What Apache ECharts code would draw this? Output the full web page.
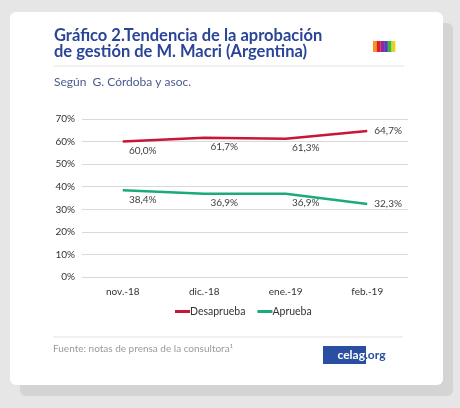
<!DOCTYPE html>
<html><head><meta charset="utf-8">
<script src="https://cdn.jsdelivr.net/npm/echarts@6/dist/echarts.min.js"></script>
<style>html,body{margin:0;padding:0;background:#e6e6e6;}#c{width:460px;height:408px;}</style>
</head><body><div id="c"></div>
<script>
const categories = ['nov.-18', 'dic.-18', 'ene.-19', 'feb.-19'];
const desaprueba = [60.0, 61.7, 61.3, 64.7];
const aprueba = [38.4, 36.9, 36.9, 32.3];
const yTicks = [0, 10, 20, 30, 40, 50, 60, 70];
const seriesNames = ['Desaprueba', 'Aprueba'];

const FONT = 'Lato, "Open Sans", sans-serif';
const chart = echarts.init(document.getElementById('c'), null, {renderer: 'canvas'});
function fmt(v){ return v.toFixed(1).replace('.', ',') + '%'; }
function labelsFor(arr){
  return arr.map((v,i)=>({
    value: v,
    label: i === arr.length-1 ? {show:true, position:'right', offset:[2,0]} : {show:true, position:'bottom', offset:[20,-1]}
  }));
}
const stripes = ['#f7941d','#e31b23','#8e2a9c','#5a3fb0','#3ab54a','#e8d21c'];
const graphics = [
  {type:'rect', shape:{x:20,y:23,width:433,height:373,r:6}, style:{fill:'#d4d4d4'}, z:-10},
  {type:'rect', shape:{x:10,y:12,width:433,height:373,r:6}, style:{fill:'#ffffff'}, z:-9},
  {type:'text', x:54, y:28, style:{text:'Gráfico 2.Tendencia de la aprobación\nde gestión de M. Macri (Argentina)', font:'bold 16.5px '+FONT, fill:'#2a4597', lineHeight:16}},
  {type:'line', shape:{x1:54,y1:66,x2:404,y2:66}, style:{stroke:'#e3e3e3', lineWidth:1}},
  {type:'text', x:54, y:76, style:{text:'Según  G. Córdoba y asoc.', font:'12px '+FONT, fill:'#4a5a8c'}},
  {type:'line', shape:{x1:53,y1:337,x2:403,y2:337}, style:{stroke:'#e3e3e3', lineWidth:1}},
  {type:'text', x:53, y:344, style:{text:'Fuente: notas de prensa de la consultora¹', font:'10px '+FONT, fill:'#9a9a9a'}},
  {type:'rect', shape:{x:323,y:346,width:43,height:18}, style:{fill:'#2a4ea0'}},
  {type:'text', x:365, y:355, style:{text:'celag', font:'bold 12px '+FONT, fill:'#ffffff', align:'right', verticalAlign:'middle'}},
  {type:'text', x:365, y:355, style:{text:'.org', font:'bold 12px '+FONT, fill:'#2a4ea0', align:'left', verticalAlign:'middle'}}
];
stripes.forEach((c,i)=>graphics.push({type:'rect', shape:{x:373+i*3.7,y:41,width:3.8,height:11}, style:{fill:c}}));

const lbl = {show:true, formatter:p=>fmt(p.value), fontSize:10, color:'#404040', fontFamily:FONT};
chart.setOption({
  animation:false,
  textStyle:{fontFamily:FONT},
  graphic: graphics,
  grid:{left:82, right:52, top:119, bottom:131},
  legend:{
    data: seriesNames, top:301, left:170, itemWidth:15, itemHeight:3, itemGap:12, icon:'rect',
    textStyle:{fontSize:10.5, color:'#333', fontFamily:FONT, padding:[0,0,0,-5]}
  },
  xAxis:{
    type:'category', data:categories, boundaryGap:true,
    axisLine:{show:false}, axisTick:{show:false},
    axisLabel:{fontSize:10, color:'#333', margin:10, fontFamily:FONT}
  },
  yAxis:{
    type:'value', min:yTicks[0], max:yTicks[yTicks.length-1], interval:10,
    axisLabel:{formatter:'{value}%', fontSize:10, color:'#333', margin:7, fontFamily:FONT},
    splitLine:{lineStyle:{color:'#d9d9d9', width:1}},
    axisLine:{show:false}, axisTick:{show:false}
  },
  series:[
    {name:seriesNames[0], type:'line', data:labelsFor(desaprueba), symbol:'circle', symbolSize:0.01, showSymbol:true,
     itemStyle:{color:'#c8153a'}, color:'#c8153a',
     lineStyle:{width:2.5, color:'#c8153a'}, label:lbl},
    {name:seriesNames[1], type:'line', data:labelsFor(aprueba), symbol:'circle', symbolSize:0.01, showSymbol:true,
     itemStyle:{color:'#1bab78'}, color:'#1bab78',
     lineStyle:{width:2.5, color:'#1bab78'}, label:lbl}
  ]
});
</script></body></html>
